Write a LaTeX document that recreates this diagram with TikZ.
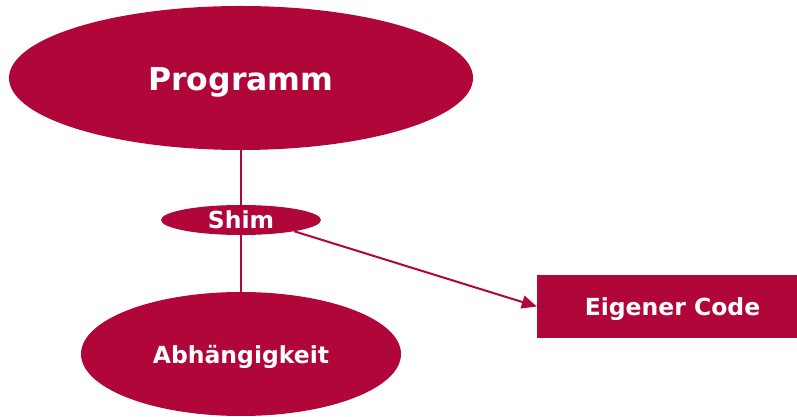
\documentclass[tikz,border=0pt]{standalone}
\usepackage{fontspec}
\setmainfont{DejaVu Sans}
\usetikzlibrary{shapes.geometric,arrows.meta}
\definecolor{shimred}{RGB}{176,6,58}
\begin{document}
\begin{tikzpicture}[x=1pt, y=1pt,
    blob/.style = {ellipse, fill=shimred, text=white, inner sep=0pt, text height=24.2pt, text depth=5.6pt, font=\bfseries\fontsize{23.5}{26}\selectfont},
    codebox/.style = {rectangle, fill=shimred, text=white, inner sep=0pt, text height=24.2pt, text depth=5.6pt, font=\bfseries\fontsize{23.5}{26}\selectfont},
    link/.style = {draw=shimred, line width=1.5pt}]
    \useasboundingbox (0, 0) rectangle (797, 417);
    \node[blob, minimum width=464pt, minimum height=144pt, text height=32.4pt, text depth=7.6pt, font=\bfseries\fontsize{31.5}{34}\selectfont] (prog) at (241, 339) {Programm};
    \node[blob, minimum width=160pt, minimum height=30pt, text height=, text depth=] (shim) at (241, 197) {Shim};
    \node[blob, minimum width=320pt, minimum height=124pt] (dep) at (241, 63) {Abhängigkeit};
    \node[codebox, minimum width=271pt, minimum height=63pt] (code) at (672.5, 110.5) {Eigener Code};
    \draw[link] (prog) -- (shim);
    \draw[link] (shim) -- (dep);
    \draw[link, line width=2pt, -{Triangle[length=15pt, width=13pt]}] (shim.-12) -- (code.west);
\end{tikzpicture}
\end{document}
